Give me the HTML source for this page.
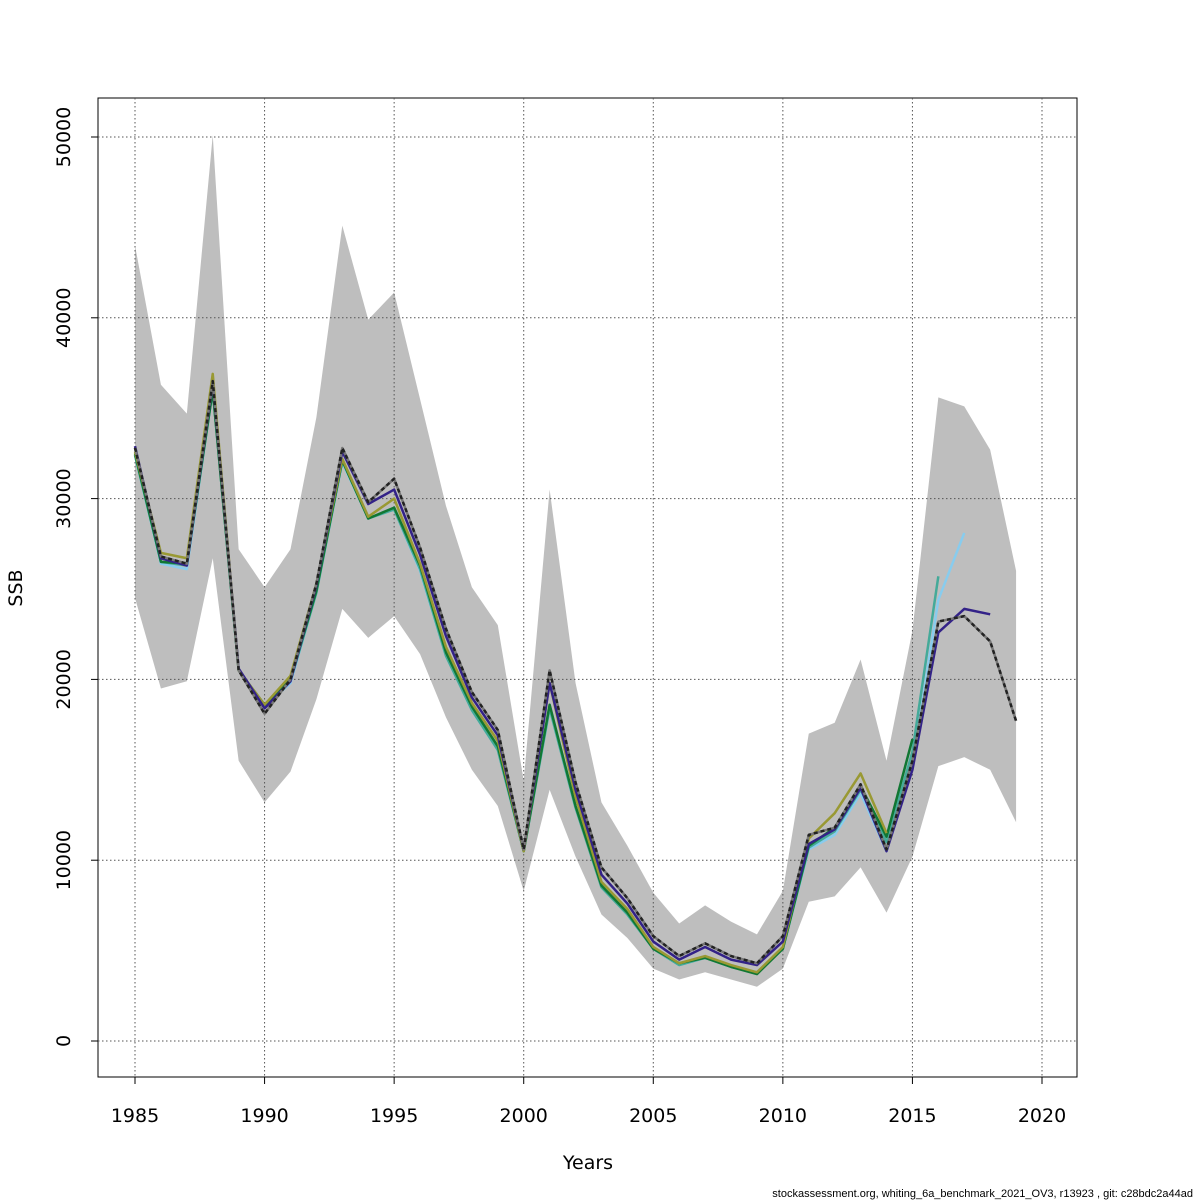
<!DOCTYPE html>
<html><head><meta charset="utf-8"><style>
body{margin:0;background:#fff}
svg{display:block;font-family:"DejaVu Sans","Liberation Sans",sans-serif}
</style></head><body>
<svg id="chart" width="1200" height="1200">
<rect x="98" y="98" width="979" height="979" fill="none" stroke="#000" stroke-width="1"/>
<g id="ci"></g><g id="grid"></g><g id="lines"></g><g id="axes"></g>
<text x="588" y="1169" font-size="19" text-anchor="middle">Years</text>
<text transform="translate(22,588) rotate(-90)" font-size="19" text-anchor="middle">SSB</text>
<text x="1193" y="1197" font-size="11" text-anchor="end" font-family="Liberation Sans, sans-serif">stockassessment.org, whiting_6a_benchmark_2021_OV3, r13923 , git: c28bdc2a44ad</text>
</svg>
<script>
const years=[];for(let y=1985;y<=2019;y++)years.push(y);
const ssb=[32800,26800,26400,36500,20500,18100,20000,25300,32800,29800,31100,27300,22800,19300,17200,10600,20500,14300,9600,7900,5800,4700,5400,4700,4300,5800,11400,11800,14200,10600,15500,23200,23500,22100,17700];
const upper=[44000,36300,34700,50100,27200,25100,27200,34500,45100,39900,41400,35500,29600,25100,23000,14400,30500,19800,13200,10800,8200,6500,7500,6600,5900,8300,17000,17600,21100,15500,22700,35600,35100,32700,26000];
const lower=[24500,19500,19900,26700,15500,13200,14900,18900,23900,22300,23500,21400,17900,15000,13000,8300,13900,10200,7000,5700,4000,3400,3800,3400,3000,4000,7700,8000,9600,7100,10200,15200,15700,15000,12100];
const peelPurple=[32900,26700,26300,36400,20600,18400,19900,25200,32600,29700,30500,26900,22400,19000,16900,10600,19800,13900,9200,7600,5500,4500,5200,4500,4200,5500,10900,11700,14000,10500,15000,22600,23900,23600];
const peelLightBlue=[32400,26400,26100,36000,20500,18500,19800,24800,32000,28900,29400,26000,21300,18300,16100,10500,18400,12900,8600,7000,5100,4200,4600,4100,3800,5100,10600,11400,13700,10500,15200,24400,28100];
const peelTeal=[32400,26500,26300,36000,20500,18500,19900,24800,32100,28900,29400,26100,21300,18300,16100,10500,18400,12900,8500,7000,5100,4200,4600,4100,3800,5100,10700,11600,13900,11000,16000,25700];
const peelGreen=[32500,26500,26400,36000,20500,18600,20000,24900,32100,28900,29500,26300,21500,18500,16300,10500,18600,13000,8600,7100,5100,4300,4600,4100,3700,5100,10800,11800,14100,11300,16700];
const peelOlive=[32600,27000,26700,36900,20500,18600,20200,25300,32200,29000,30000,26400,21800,18700,16600,10500,19800,13500,8800,7300,5200,4300,4700,4200,3800,5200,11200,12600,14800,11500];
const xTicks=[1985,1990,1995,2000,2005,2010,2015,2020];
const yTicks=[0,10000,20000,30000,40000,50000];
const NS="http://www.w3.org/2000/svg";
const X=y=>135+(y-1985)*(1042-135)/35;
const Y=v=>1041-v*(1041-137)/50000;
function mk(tag,attrs,parent){const e=document.createElementNS(NS,tag);for(const k in attrs)e.setAttribute(k,attrs[k]);document.getElementById(parent).appendChild(e);return e;}
let pts=years.map((y,i)=>X(y)+","+Y(upper[i]));
for(let i=years.length-1;i>=0;i--)pts.push(X(years[i])+","+Y(lower[i]));
const poly=mk("polygon",{points:pts.join(" "),fill:"#bebebe",stroke:"none"},"ci");


xTicks.forEach(t=>{
 const g=mk("line",{x1:X(t),x2:X(t),y1:98,y2:1077,stroke:"#555","stroke-dasharray":"1.5,2.5","stroke-width":1},"grid");
 
 
 const tk=mk("line",{x1:X(t),x2:X(t),y1:1077,y2:1084,stroke:"#000"},"axes");
 
 
 const tl=mk("text",{x:X(t),y:1122,"font-size":19,"text-anchor":"middle"},"axes");tl.textContent=t;
 
 
});
yTicks.forEach(t=>{
 const g=mk("line",{x1:98,x2:1077,y1:Y(t),y2:Y(t),stroke:"#555","stroke-dasharray":"1.5,2.5","stroke-width":1},"grid");
 
 
 const tk=mk("line",{x1:91,x2:98,y1:Y(t),y2:Y(t),stroke:"#000"},"axes");
 
 
 const tl=mk("text",{transform:`translate(70,${Y(t)}) rotate(-90)`,"font-size":19,"text-anchor":"middle"},"axes");tl.textContent=t;
 
 
});
function line(vals,color,w,dash){
 const p=vals.map((v,i)=>X(years[i])+","+Y(v)).join(" ");
 const a={points:p,fill:"none",stroke:color,"stroke-width":w,"stroke-linejoin":"round"};
 if(dash)a["stroke-dasharray"]=dash;
 return mk("polyline",a,"lines");
}
let l;
l=line(peelLightBlue,"#88ccee",2.5);
l=line(peelTeal,"#44aa99",2.5);
l=line(peelGreen,"#117733",2.5);
l=line(peelOlive,"#999933",2.5);
l=line(peelPurple,"#332288",2.5);
l=line(ssb,"#777",2.5);
l=line(ssb,"#222",2.5,"4,3");
</script>
</body></html>
